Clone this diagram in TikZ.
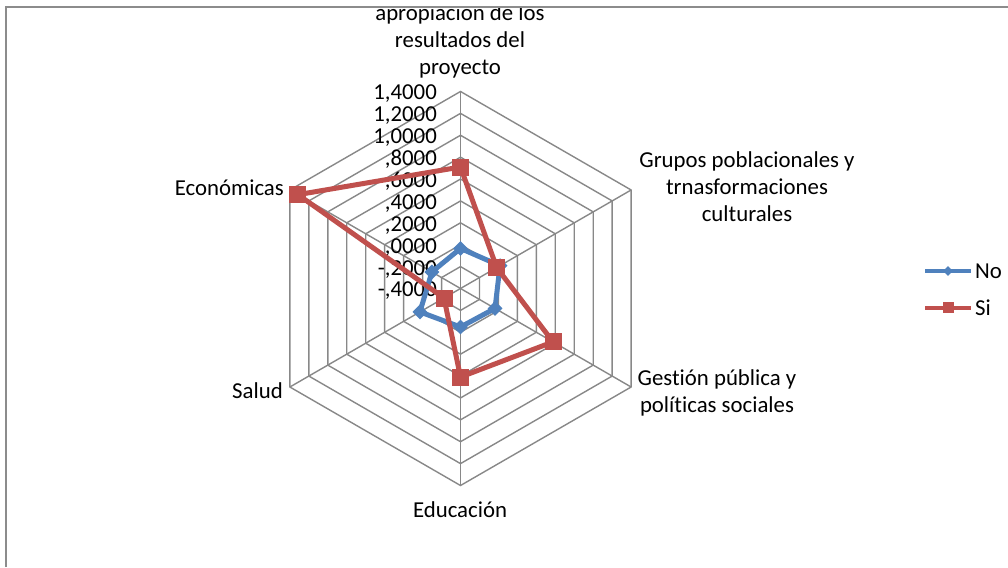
\documentclass[tikz,border=0pt]{standalone}
\usepackage{fontspec}
\setmainfont{Carlito}[Ligatures=NoCommon]
\usetikzlibrary{positioning,shapes.geometric}

\definecolor{serieNo}{RGB}{79,129,189}
\definecolor{serieSi}{RGB}{192,80,77}
\definecolor{rejilla}{RGB}{136,136,136}
\definecolor{marco}{RGB}{140,140,140}

\tikzset{
  rejillalinea/.style={draw=rejilla, line width=1.4pt},
  etiqueta/.style={font=\fontsize{22.8}{27}\selectfont, inner sep=0pt, align=center},
  lineano/.style={draw=serieNo, line width=5pt, line join=round},
  lineasi/.style={draw=serieSi, line width=5pt, line join=round},
  marcano/.style={diamond, fill=serieNo, inner sep=0pt, minimum size=15pt},
  marcasi/.style={rectangle, fill=serieSi, inner sep=0pt, minimum size=17pt}
}

\begin{document}
\begin{tikzpicture}[x=1pt,y=1pt]
	\useasboundingbox (0,0) rectangle (1008,567);
	\coordinate (O) at (460.5,278.5);

	% rejilla y ejes
	\begin{scope}[shift={(O)}]
	\foreach \k in {1,...,9}
		\draw[rejillalinea] (90:{\k*21.89}) -- (30:{\k*21.89}) -- (-30:{\k*21.89})
			-- (-90:{\k*21.89}) -- (-150:{\k*21.89}) -- (150:{\k*21.89}) -- cycle;
	\foreach \a in {90,30,-30,-90,-150,150}
		\draw[rejillalinea] (0,0) -- (\a:197);

	% datos
	\foreach \a/\v/\n in {90/-0.034/apr, 30/0.017/gru, -30/-0.036/ges, -90/-0.048/edu, -150/0.028/sal, 150/-0.098/eco}
		\coordinate (no-\n) at (\a:{(\v+0.4)*109.44});
	\foreach \a/\v/\n in {90/0.71/apr, 30/-0.018/gru, -30/0.576/ges, -90/0.409/edu, -150/-0.226/sal, 150/1.315/eco}
		\coordinate (si-\n) at (\a:{(\v+0.4)*109.44});
	\end{scope}

	% escala
	\foreach \k/\t in {0/{-,4000}, 1/{-,2000}, 2/{,0000}, 3/{,2000}, 4/{,4000}, 5/{,6000}, 6/{,8000}, 7/{1,0000}, 8/{1,2000}, 9/{1,4000}}
		\node[etiqueta, anchor=east] (t\k) at (437,{278.5+\k*21.89-2.5}) {\t};

	% serie No
	\draw[lineano] (no-apr) -- (no-gru) -- (no-ges) -- (no-edu) -- (no-sal) -- (no-eco) -- cycle;
	\foreach \n in {apr,gru,ges,edu,sal,eco}
		\node[marcano] (mno-\n) at (no-\n) {};

	% serie Si
	\draw[lineasi] (si-apr) -- (si-gru) -- (si-ges) -- (si-edu) -- (si-sal) -- (si-eco) -- cycle;
	\foreach \n in {apr,gru,ges,edu,sal,eco}
		\node[marcasi] (msi-\n) at (si-\n) {};

	% rotulos de ejes
	\node[etiqueta] (e-apr) at (460,526) {apropiación de los\\resultados del\\proyecto};
	\node[etiqueta] (e-gru) at (747,380) {Grupos poblacionales y\\trnasformaciones\\culturales};
	\node[etiqueta] (e-ges) at (717,174) {Gestión pública y\\políticas sociales};
	\node[etiqueta] (e-edu) at (460,57) {Educación};
	\node[etiqueta, anchor=east] (e-sal) at (283,176) {Salud};
	\node[etiqueta, anchor=east] (e-eco) at (284,379) {Económicas};

	% leyenda
	\coordinate (lno-a) at (925,296);
	\coordinate (lno-b) at (971,296);
	\draw[lineano, line width=4pt] (lno-a) -- (lno-b);
	\node[marcano, minimum size=10pt] (lno-m) at (948,296) {};
	\node[etiqueta, anchor=west] (lno-t) at (975,296) {No};
	\coordinate (lsi-a) at (925,259);
	\coordinate (lsi-b) at (971,259);
	\draw[lineasi, line width=4pt] (lsi-a) -- (lsi-b);
	\node[marcasi, minimum size=11pt] (lsi-m) at (948,259) {};
	\node[etiqueta, anchor=west] (lsi-t) at (975,259) {Si};

	% marco
	\fill[white] (0,560) rectangle (1008,567);
	\draw[marco, line width=1.6pt] (5.7,0) -- (5.7,560) -- (1008,560);
\end{tikzpicture}
\end{document}
